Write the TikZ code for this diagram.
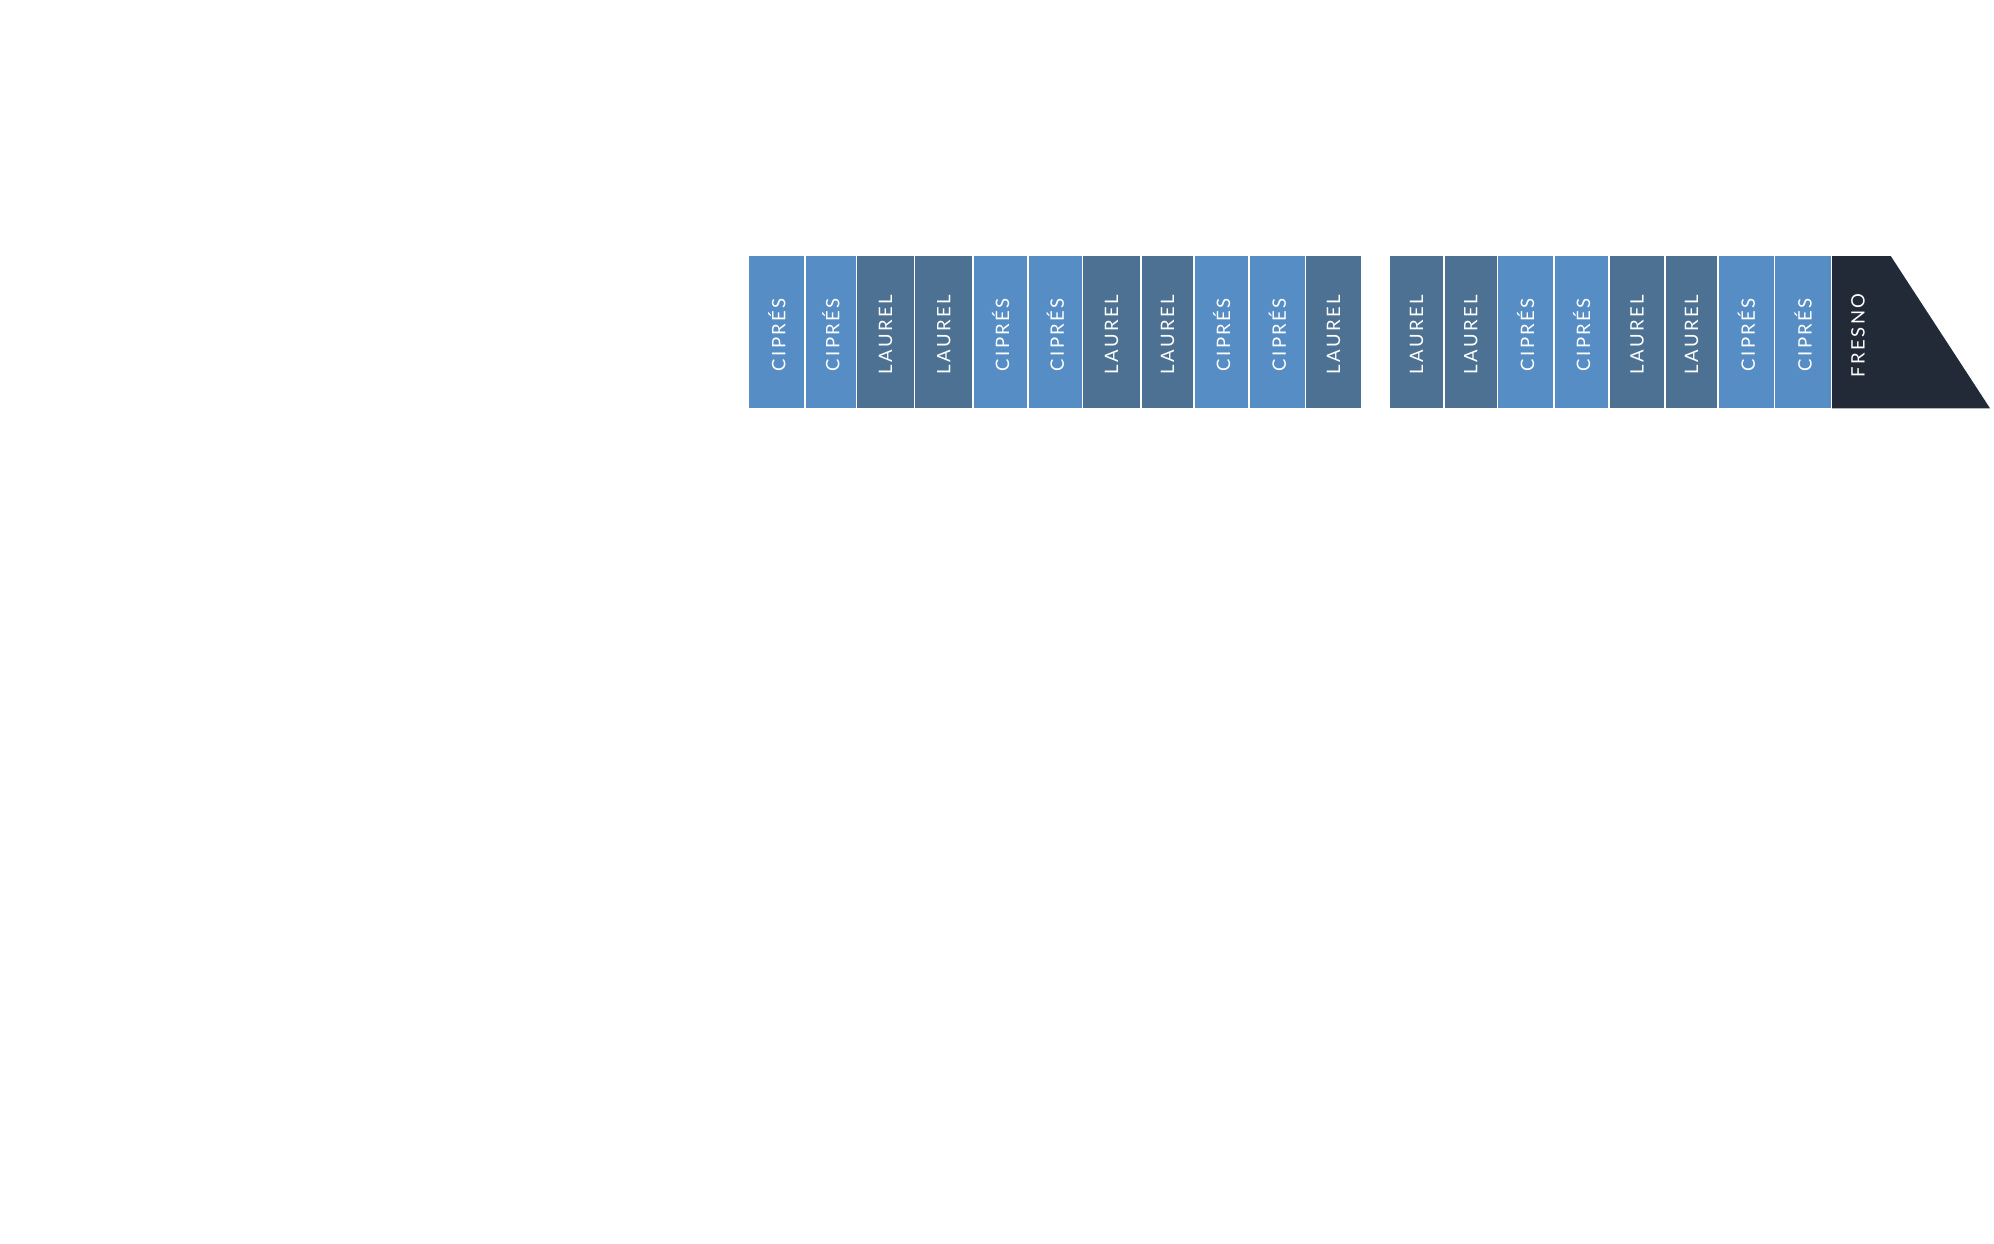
\documentclass[tikz,border=0pt]{standalone}
\usepackage{fontspec}
\newfontfamily\cellfont[LetterSpace=13]{Lato}
\definecolor{cipresblue}{HTML}{578DC5}
\definecolor{laurelblue}{HTML}{4C7193}
\definecolor{fresnodark}{HTML}{232A37}
\tikzset{
    celltext/.style={text=white, rotate=90, inner sep=0pt,
        font=\cellfont\fontsize{18.5}{18.5}\selectfont},
    cipres/.style={fill=cipresblue},
    laurel/.style={fill=laurelblue}
}
\newcommand{\treecell}[5]{
    \fill[#4] (#2, 256) rectangle (#3, 408.3);
    \node[celltext] (#1) at ({(#2+#3)/2}, 334.5) {#5};
}

\begin{document}
\begin{tikzpicture}[x=1pt, y=-1pt]
\useasboundingbox (0, 0) rectangle (1994, 1243);

% first row of trees
\foreach \n/\xa/\xb/\kind/\txt in {
    c1/749.3/804.3/cipres/CIPRÉS, c2/805.7/856/cipres/CIPRÉS,
    c3/857.3/914/laurel/LAUREL, c4/915.3/972.3/laurel/LAUREL,
    c5/973.7/1027.3/cipres/CIPRÉS, c6/1028.7/1082/cipres/CIPRÉS,
    c7/1083.3/1140/laurel/LAUREL, c8/1141.7/1193.3/laurel/LAUREL,
    c9/1194.7/1248.3/cipres/CIPRÉS, c10/1249.7/1305/cipres/CIPRÉS,
    c11/1306.3/1361/laurel/LAUREL} {
    \treecell{\n}{\xa}{\xb}{\kind}{\txt}
}

% second row of trees
\foreach \n/\xa/\xb/\kind/\txt in {
    d1/1390/1443.3/laurel/LAUREL, d2/1444.7/1496.7/laurel/LAUREL,
    d3/1498/1553/cipres/CIPRÉS, d4/1554.7/1608.3/cipres/CIPRÉS,
    d5/1609.7/1664.3/laurel/LAUREL, d6/1665.7/1717.3/laurel/LAUREL,
    d7/1718.7/1774/cipres/CIPRÉS, d8/1775.3/1830.7/cipres/CIPRÉS} {
    \treecell{\n}{\xa}{\xb}{\kind}{\txt}
}

% end piece
\fill[fresnodark] (1832, 256) -- (1890.7, 256) -- (1990, 408.3) -- (1832, 408.3) -- cycle;
\node[celltext] (fresno) at (1858, 335.5) {FRESNO};

\end{tikzpicture}
\end{document}
